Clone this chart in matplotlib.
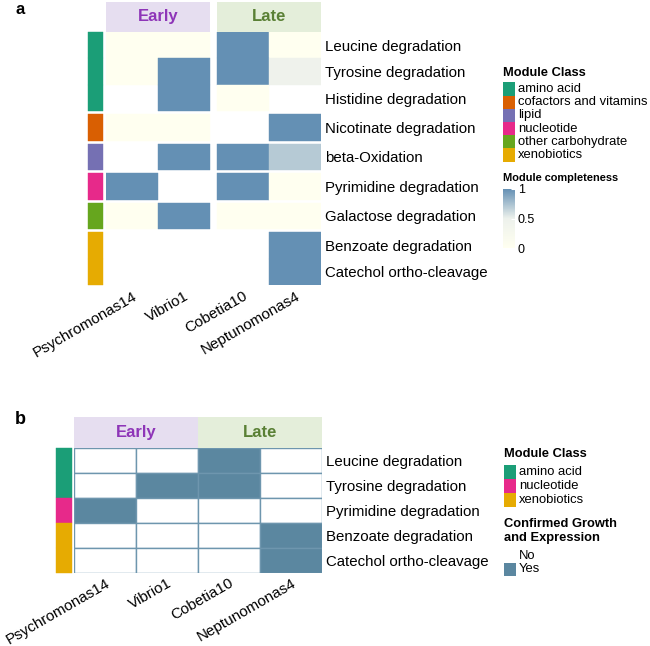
import numpy as np
import matplotlib
matplotlib.use('Agg')
import matplotlib.pyplot as plt
from matplotlib.colors import LinearSegmentedColormap, Normalize
from matplotlib.cm import ScalarMappable
from matplotlib.patches import Rectangle

plt.rcParams['font.family'] = ['Liberation Sans', 'DejaVu Sans']

W, H = 650, 646

strains = ['Psychromonas14', 'Vibrio1', 'Cobetia10', 'Neptunomonas4']
stages = ['Early', 'Late']
stage_bg = ['#E6DEF0', '#E4EEDA']
stage_fg = ['#8E35B8', '#5A8035']

class_names = ['amino acid', 'cofactors and vitamins', 'lipid', 'nucleotide',
               'other carbohydrate', 'xenobiotics']
class_colors = ['#1B9E77', '#D95F02', '#7570B3', '#E7298A', '#66A61E', '#E6AB02']

# panel a: module completeness (nan = not present, drawn white)
modules_a = ['Leucine degradation', 'Tyrosine degradation', 'Histidine degradation',
             'Nicotinate degradation', 'beta-Oxidation', 'Pyrimidine degradation',
             'Galactose degradation', 'Benzoate degradation', 'Catechol ortho-cleavage']
classes_a = ['amino acid', 'amino acid', 'amino acid', 'cofactors and vitamins', 'lipid',
             'nucleotide', 'other carbohydrate', 'xenobiotics', 'xenobiotics']
nan = np.nan
completeness = [
    [0, 0, 1, 0],
    [0, 1, 1, 0.45],
    [nan, 1, 0, nan],
    [0, 0, nan, 1],
    [nan, 1, 1, 0.7],
    [1, nan, 1, 0],
    [0, 1, 0, 0],
    [nan, nan, nan, 1],
    [nan, nan, nan, 1],
]

# panel b: confirmed growth and expression
modules_b = ['Leucine degradation', 'Tyrosine degradation', 'Pyrimidine degradation',
             'Benzoate degradation', 'Catechol ortho-cleavage']
classes_b = ['amino acid', 'amino acid', 'nucleotide', 'xenobiotics', 'xenobiotics']
confirmed = [
    [0, 0, 1, 0],
    [0, 1, 1, 0],
    [1, 0, 0, 0],
    [0, 0, 0, 1],
    [0, 0, 0, 1],
]

cmap = LinearSegmentedColormap.from_list('compl', ['#FFFFF0', '#EDF1EC', '#6490B4'])
norm = Normalize(0, 1)
yes_color = '#5B87A0'
grid_color = '#6E96AE'


def fig_box(x0, y0, x1, y1):
    # pixel box (top-left origin) -> figure fraction rect
    return [x0 / W, 1 - y1 / H, (x1 - x0) / W, (y1 - y0) / H]


def fpt(x, y):
    return x / W, 1 - y / H


fig = plt.figure(figsize=(W / 100, H / 100), dpi=100)

# ---------------- panel a ----------------
ax = fig.add_axes(fig_box(106, 32, 321, 285))
col_gap = 7 / 52
row_gap = 3 / 26.4
n_rows = len(modules_a)
col_x = [j + (col_gap if j >= 2 else 0) for j in range(len(strains))]

row_y = []
y = 0
for i in range(n_rows):
    if i > 0 and classes_a[i] != classes_a[i - 1]:
        y += row_gap
    row_y.append(y)
    y += 1
total_h = y

for i in range(n_rows):
    for j in range(len(strains)):
        v = completeness[i][j]
        if np.isnan(v):
            continue
        c = cmap(norm(v))
        ax.add_patch(Rectangle((col_x[j], row_y[i]), 1, 1, facecolor=c,
                               edgecolor=c, lw=0.3))

# class bar
for i in range(n_rows):
    c = class_colors[class_names.index(classes_a[i])]
    ax.add_patch(Rectangle((-18 / 52, row_y[i]), 15 / 52, 1, facecolor=c,
                           edgecolor=c, lw=0.3, clip_on=False))

# stage headers
hdr = 30 / 26.4
for k, st in enumerate(stages):
    x0 = col_x[2 * k]
    ax.add_patch(Rectangle((x0, -hdr), 2, hdr, facecolor=stage_bg[k],
                           edgecolor='none', clip_on=False))
    ax.text(x0 + 1, -hdr / 2, st, ha='center', va='center', fontsize=12,
            fontweight='bold', color=stage_fg[k])

ax.set_xlim(0, 4 + col_gap)
ax.set_ylim(total_h, 0)
ax.set_xticks([x + 0.5 for x in col_x])
ax.set_xticklabels(strains, rotation=30, ha='right', rotation_mode='anchor', fontsize=11)
ax.set_yticks([y + 0.5 for y in row_y])
ax.set_yticklabels(modules_a, fontsize=10.8)
ax.yaxis.tick_right()
ax.tick_params(length=0)
ax.tick_params(axis='x', pad=3)
ax.tick_params(axis='y', pad=3)
for s in ax.spines.values():
    s.set_visible(False)

# legend a
fig.text(*fpt(503, 73), 'Module Class', fontsize=9.3, fontweight='bold', va='center')
for k, (name, c) in enumerate(zip(class_names, class_colors)):
    yc = 89 + 13.2 * k
    fig.patches.append(Rectangle(fpt(503, yc + 6.6), 12 / W, 13.2 / H, facecolor=c,
                                 edgecolor='none', transform=fig.transFigure))
    fig.text(*fpt(518, yc), name, fontsize=9.4, va='center')

fig.text(*fpt(503, 178), 'Module completeness', fontsize=7.9, fontweight='bold', va='center')
cax = fig.add_axes(fig_box(503, 187, 515, 250))
cb = fig.colorbar(ScalarMappable(norm=norm, cmap=cmap), cax=cax, ticks=[0, 0.5, 1])
cb.set_ticklabels(['0', '0.5', '1'])
cb.outline.set_visible(False)
cax.set_ylim(-0.03, 1.03)
cax.tick_params(length=3, width=0.8, color='white', direction='in', labelsize=9, pad=2)

fig.text(*fpt(20, 9), 'a', fontsize=12, fontweight='bold', ha='center', va='center')

# ---------------- panel b ----------------
bx = fig.add_axes(fig_box(74, 448, 322, 573))
nb = len(modules_b)
for i in range(nb):
    for j in range(len(strains)):
        fc = yes_color if confirmed[i][j] else 'white'
        bx.add_patch(Rectangle((j, i), 1, 1, facecolor=fc, edgecolor=grid_color, lw=1))

for i in range(nb):
    c = class_colors[class_names.index(classes_b[i])]
    bx.add_patch(Rectangle((-18 / 62, i), 16 / 62, 1, facecolor=c, edgecolor=c,
                           lw=0.3, clip_on=False))

hdr_b = 31 / 25
for k, st in enumerate(stages):
    bx.add_patch(Rectangle((2 * k, -hdr_b), 2, hdr_b, facecolor=stage_bg[k],
                           edgecolor='none', clip_on=False))
    bx.text(2 * k + 1, -hdr_b / 2, st, ha='center', va='center', fontsize=12,
            fontweight='bold', color=stage_fg[k])

bx.set_xlim(0, 4)
bx.set_ylim(nb, 0)
bx.set_xticks(np.arange(4) + 0.5)
bx.set_xticklabels(strains, rotation=30, ha='right', rotation_mode='anchor', fontsize=11)
bx.set_yticks(np.arange(nb) + 0.5)
bx.set_yticklabels(modules_b, fontsize=10.8)
bx.yaxis.tick_right()
bx.tick_params(length=0)
bx.tick_params(axis='x', pad=2)
bx.tick_params(axis='y', pad=3)
for s in bx.spines.values():
    s.set_visible(False)

# legend b
used = [c for c in class_names if c in classes_b]
fig.text(*fpt(504, 454), 'Module Class', fontsize=9.3, fontweight='bold', va='center')
for k, name in enumerate(used):
    yc = 472 + 13.8 * k
    c = class_colors[class_names.index(name)]
    fig.patches.append(Rectangle(fpt(504, yc + 6.9), 12 / W, 13.8 / H, facecolor=c,
                                 edgecolor='none', transform=fig.transFigure))
    fig.text(*fpt(519, yc), name, fontsize=9.4, va='center')

fig.text(*fpt(504, 531), 'Confirmed Growth\nand Expression', fontsize=9.3,
         fontweight='bold', va='center', linespacing=1.25)
for k, (name, fc) in enumerate(zip(['No', 'Yes'], ['white', yes_color])):
    yc = 556 + 13 * k
    fig.patches.append(Rectangle(fpt(504, yc + 6.5), 12 / W, 13 / H, facecolor=fc,
                                 edgecolor='none', transform=fig.transFigure))
    fig.text(*fpt(519, yc), name, fontsize=9.4, va='center')

fig.text(*fpt(20, 420), 'b', fontsize=13, fontweight='bold', ha='center', va='center')

fig.savefig('out.png', dpi=100, facecolor='white')
